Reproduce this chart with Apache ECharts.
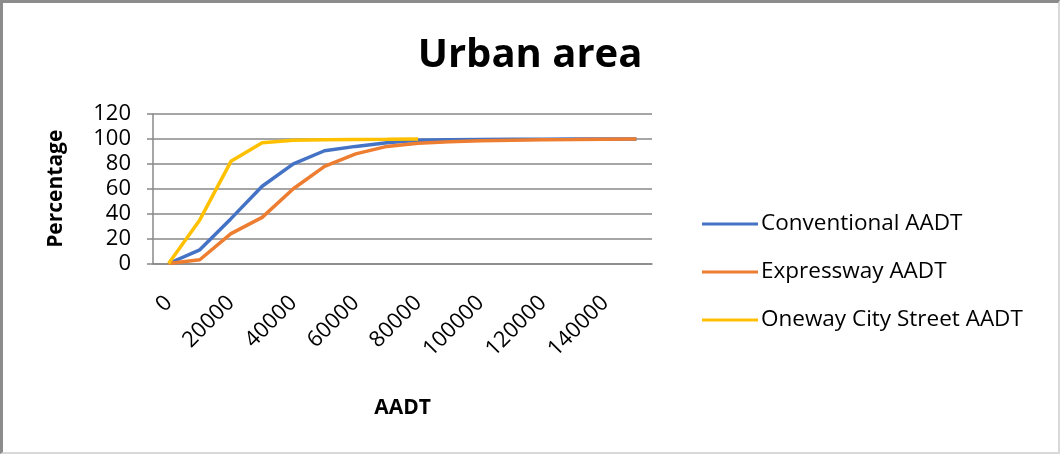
<!DOCTYPE html>
<html>
<head>
<meta charset="utf-8">
<script src="https://cdn.jsdelivr.net/npm/echarts@6/dist/echarts.min.js"></script>
<style>
  html, body { margin: 0; padding: 0; background: #fff; }
  .frame {
    width: 1060px; height: 454px; box-sizing: border-box;
    border-left: 3px solid #8c8c8c; border-top: 3px solid #8c8c8c;
    border-right: 2px solid #d9d9d9; border-bottom: 2px solid #d9d9d9;
    position: relative; overflow: hidden;
  }
  #chart { position: absolute; left: -3px; top: -3px; width: 1060px; height: 454px; }
</style>
</head>
<body>
<div class="frame"><div id="chart"></div></div>
<script>
// AADT categories (Excel category axis, every 10000)
var aadt = [0, 10000, 20000, 30000, 40000, 50000, 60000, 70000, 80000,
            90000, 100000, 110000, 120000, 130000, 140000, 150000];

// cumulative percentage
var conventional = [0, 11, 36, 62, 80, 90.5, 94, 97, 99, 99.4, 99.6, 99.7, 99.8, 99.9, 100, 100];
var expressway   = [0, 3, 24, 37, 60, 78, 88, 94, 96.5, 97.8, 98.6, 99, 99.3, 99.5, 99.8, 100];
var oneway       = [0, 35, 82, 97, 99, 99.3, 99.5, 99.7, 100];

var seriesNames = ['Conventional AADT', 'Expressway AADT', 'Oneway City Street AADT'];
var colors = ['#4472C4', '#ED7D31', '#FFC000'];
var yTicks = [0, 20, 40, 60, 80, 100, 120];

var font = '"Open Sans", "DejaVu Sans", sans-serif';
var myChart = echarts.init(document.getElementById('chart'));

var option = {
  animation: false,
  color: colors,
  title: {
    text: 'Urban area',
    left: 'center',
    top: 31,
    textStyle: { fontFamily: font, fontSize: 40, fontWeight: 'bold', color: '#000' }
  },
  legend: {
    orient: 'vertical',
    left: 697,
    top: 205,
    icon: 'rect',
    itemWidth: 56,
    itemHeight: 3,
    itemGap: 20,
    textStyle: { fontFamily: font, fontSize: 22.5, color: '#000', lineHeight: 28, padding: [0, 0, 0, -2] },
    data: seriesNames
  },
  grid: {
    left: 153,
    right: 408,
    top: 114,
    bottom: 190.5,
    containLabel: false
  },
  xAxis: {
    type: 'category',
    boundaryGap: true,
    data: aadt,
    name: 'AADT',
    nameLocation: 'middle',
    nameGap: 134,
    nameTextStyle: { fontFamily: font, fontSize: 21, fontWeight: 'bold', color: '#000' },
    axisLine: { lineStyle: { color: '#888', width: 1.5 } },
    axisTick: { show: false },
    axisLabel: {
      interval: 1,
      rotate: 45,
      margin: 36,
      fontFamily: font,
      fontSize: 22,
      color: '#000'
    }
  },
  yAxis: {
    type: 'value',
    min: yTicks[0],
    max: yTicks[yTicks.length - 1],
    interval: 20,
    name: 'Percentage',
    nameLocation: 'middle',
    nameGap: 86,
    nameTextStyle: { fontFamily: font, fontSize: 21, fontWeight: 'bold', color: '#000' },
    axisLine: { show: true, lineStyle: { color: '#888', width: 1.5 } },
    axisTick: { show: true, length: 6, lineStyle: { color: '#888', width: 1.5 } },
    axisLabel: { fontFamily: font, fontSize: 22, color: '#000', margin: 22 },
    splitLine: { lineStyle: { color: '#888', width: 1.5 } }
  },
  series: []
};

var seriesData = [conventional, expressway, oneway];
for (var i = 0; i < seriesNames.length; i++) {
  option.series.push({
    name: seriesNames[i],
    type: 'line',
    showSymbol: false,
    symbol: 'none',
    lineStyle: { width: 3.5, color: colors[i] },
    emphasis: { disabled: true },
    data: seriesData[i]
  });
}

myChart.setOption(option, true);
window.addEventListener('resize', function () { myChart.resize(); });
</script>
</body>
</html>
